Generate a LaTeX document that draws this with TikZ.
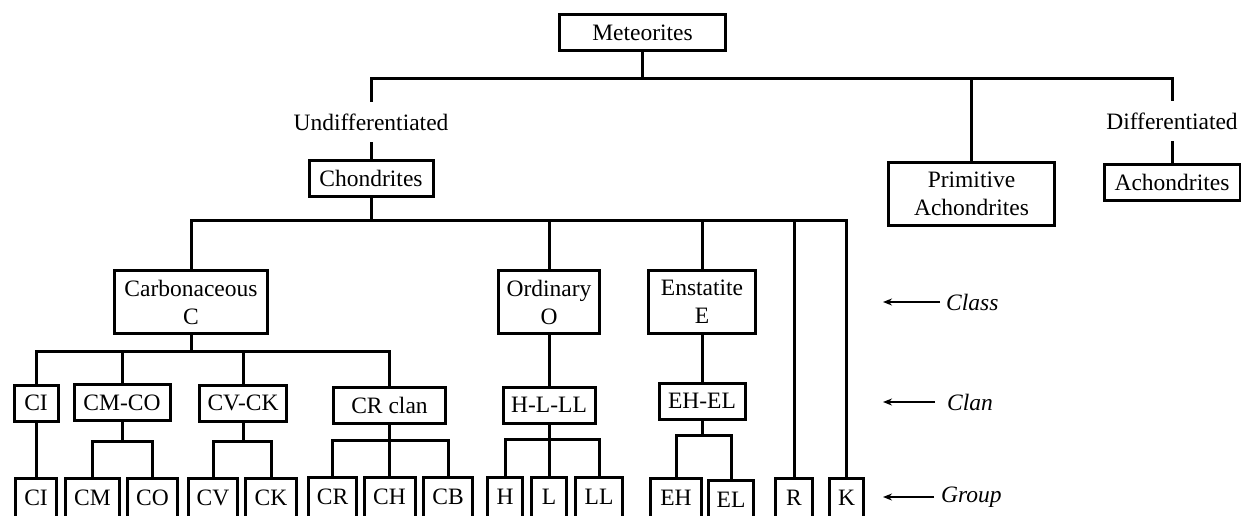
\documentclass[tikz,border=0pt]{standalone}
\usepackage{fontspec}
\setmainfont{Liberation Serif}
\usetikzlibrary{arrows.meta}
\begin{document}
\begin{tikzpicture}[x=1pt,y=-1pt,
    box/.style={draw,line width=3pt,inner sep=0pt,minimum height=36pt,align=center,font=\fontsize{23.5}{28}\selectfont},
    tag/.style={inner sep=0pt,minimum height=40pt,font=\fontsize{23.5}{28}\selectfont},
    level/.style={inner sep=0pt,anchor=west,font=\fontsize{23.5}{28}\selectfont\itshape},
    link/.style={line width=3pt},
    pointer/.style={line width=2.2pt,-{Stealth[length=9pt,width=7pt]}}]
      \useasboundingbox (0,0) rectangle (1241,516);
      \clip (0,0) rectangle (1241,516);
      % top
      \node[box,minimum width=166pt] (meteor) at (642.5,33) {Meteorites};
      \node[tag] (undiff) at (371,122) {Undifferentiated};
      \node[tag] (diff) at (1172,121) {Differentiated};
      \node[box,minimum width=124pt] (chond) at (371,178) {Chondrites};
      \node[box,minimum width=166pt,minimum height=63pt] (prim) at (971.5,193.5) {Primitive\\Achondrites};
      \node[box,minimum width=136pt] (achond) at (1172,182.5) {Achondrites};
      \draw[link] (meteor.south) -- (meteor.south |- 0,79) -| (undiff.north);
      \draw[link] (meteor.south) -- (meteor.south |- 0,79) -| (prim.north);
      \draw[link] (meteor.south) -- (meteor.south |- 0,79) -| (diff.north);
      \draw[link] (undiff.south) -- (chond.north);
      \draw[link] (diff.south) -- (achond.north);
      % class
      \node[box,minimum width=153pt,minimum height=63pt] (carb) at (191,302) {Carbonaceous\\C};
      \node[box,minimum width=101pt,minimum height=63pt] (ord) at (549,302) {Ordinary\\O};
      \node[box,minimum width=107pt,minimum height=63pt] (enst) at (702,302) {Enstatite\\E};
      % clan
      \node[box,minimum width=44pt] (ciclan) at (36,403) {CI};
      \node[box,minimum width=96pt] (cmco) at (122,402.5) {CM-CO};
      \node[box,minimum width=87pt] (cvck) at (243,403) {CV-CK};
      \node[box,minimum width=112pt] (crclan) at (389.5,405) {CR clan};
      \node[box,minimum width=92pt] (hlll) at (549,405) {H-L-LL};
      \node[box,minimum width=86pt] (ehel) at (702,401) {EH-EL};
      % group
      \node[box,minimum width=41pt,minimum height=40pt] (gci) at (36,498) {CI};
      \node[box,minimum width=54pt,minimum height=40pt] (gcm) at (92.5,498) {CM};
      \node[box,minimum width=50pt,minimum height=40pt] (gco) at (152.5,498) {CO};
      \node[box,minimum width=49pt,minimum height=40pt] (gcv) at (213,498) {CV};
      \node[box,minimum width=51pt,minimum height=40pt] (gck) at (271,498) {CK};
      \node[box,minimum width=48pt,minimum height=40pt] (gcr) at (332.5,497) {CR};
      \node[box,minimum width=51pt,minimum height=40pt] (gch) at (389.5,497) {CH};
      \node[box,minimum width=49pt,minimum height=40pt] (gcb) at (448,497) {CB};
      \node[box,minimum width=35pt,minimum height=40pt] (gh) at (505,497) {H};
      \node[box,minimum width=35pt,minimum height=40pt] (gl) at (549,497) {L};
      \node[box,minimum width=47pt,minimum height=40pt] (gll) at (599,497) {LL};
      \node[box,minimum width=51pt,minimum height=40pt] (geh) at (676,498) {EH};
      \node[box,minimum width=45pt,minimum height=40pt] (gel) at (731,500) {EL};
      \node[box,minimum width=37pt,minimum height=40pt] (gr) at (794,498) {R};
      \node[box,minimum width=34pt,minimum height=40pt] (gk) at (846.5,498) {K};
      % chondrites bus
      \draw[link] (chond.south) -- (chond.south |- 0,220) -| (carb.north);
      \draw[link] (chond.south) -- (chond.south |- 0,220) -| (ord.north);
      \draw[link] (chond.south) -- (chond.south |- 0,220) -| (enst.north);
      \draw[link] (chond.south) -- (chond.south |- 0,220) -| (gr.north);
      \draw[link] (chond.south) -- (chond.south |- 0,220) -| (gk.north);
      % carbonaceous bus
      \draw[link] (carb.south) -- (carb.south |- 0,351) -| (ciclan.north);
      \draw[link] (carb.south) -- (carb.south |- 0,351) -| (cmco.north);
      \draw[link] (carb.south) -- (carb.south |- 0,351) -| (cvck.north);
      \draw[link] (carb.south) -- (carb.south |- 0,351) -| (crclan.north);
      \draw[link] (ciclan.south) -- (gci.north);
      \draw[link] (cmco.south) -- (cmco.south |- 0,441) -| (gcm.north);
      \draw[link] (cmco.south) -- (cmco.south |- 0,441) -| (gco.north);
      \draw[link] (cvck.south) -- (cvck.south |- 0,441) -| (gcv.north);
      \draw[link] (cvck.south) -- (cvck.south |- 0,441) -| (gck.north);
      \draw[link] (crclan.south) -- (crclan.south |- 0,440) -| (gcr.north);
      \draw[link] (crclan.south) -- (gch.north);
      \draw[link] (crclan.south) -- (crclan.south |- 0,440) -| (gcb.north);
      % ordinary and enstatite
      \draw[link] (ord.south) -- (hlll.north);
      \draw[link] (hlll.south) -- (hlll.south |- 0,439) -| (gh.north);
      \draw[link] (hlll.south) -- (gl.north);
      \draw[link] (hlll.south) -- (hlll.south |- 0,439) -| (gll.north);
      \draw[link] (enst.south) -- (ehel.north);
      \draw[link] (ehel.south) -- (ehel.south |- 0,435) -| (geh.north);
      \draw[link] (ehel.south) -- (ehel.south |- 0,435) -| (gel.north);
      % levels
      \node[level] (classlbl) at (946,302) {Class};
      \node[level] (clanlbl) at (947,402) {Clan};
      \node[level] (grouplbl) at (941,497) {Group};
      \coordinate (classend) at (883,302);
      \coordinate (clanend) at (883,402);
      \coordinate (groupend) at (883,497);
      \draw[pointer] ([xshift=-6pt]classlbl.west) -- (classend);
      \draw[pointer] ([xshift=-12pt]clanlbl.west) -- (clanend);
      \draw[pointer] ([xshift=-7pt]grouplbl.west) -- (groupend);
    \end{tikzpicture}
\end{document}
